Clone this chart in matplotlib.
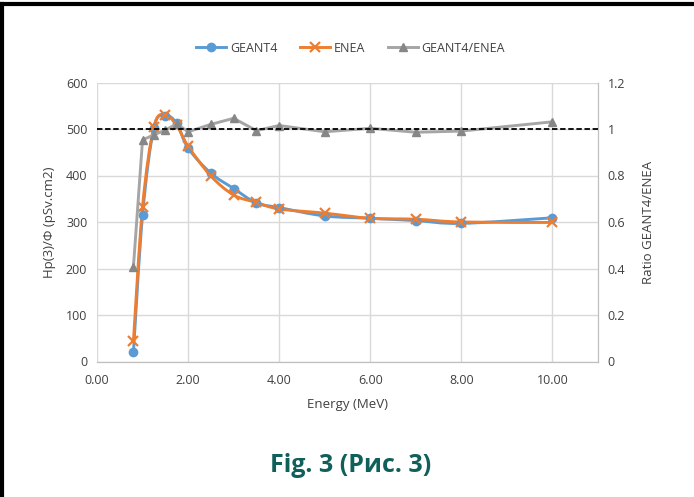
import numpy as np
import matplotlib
matplotlib.use("Agg")
import matplotlib.pyplot as plt
from matplotlib.path import Path
from matplotlib.patches import PathPatch
from matplotlib.lines import Line2D

# ============================= DATOS =================================
energia = [0.8, 1.0, 1.25, 1.5, 1.75, 2.0, 2.5, 3.0, 3.5, 4.0, 5.0, 6.0, 7.0, 8.0, 10.0]
geant4 = [20, 315, 503, 529, 512, 459, 405, 372, 341, 331, 313, 308, 303, 297, 309]
enea = [44, 333, 505, 531, 508, 463, 399, 358, 342, 328, 319, 308, 306, 300, 299]
ratio = [0.408, 0.953, 0.975, 0.995, 1.022, 0.988, 1.02, 1.046, 0.993, 1.015,
         0.988, 1.003, 0.986, 0.991, 1.031]

AZUL = '#5B9BD5'
NARANJA = '#ED7D31'
GRIS = '#A5A5A5'
GRIS_MARCA = '#878787'
TEAL = '#0f5f5b'

plt.rcParams['font.family'] = ['Open Sans', 'DejaVu Sans']


def curva_suave(x, y):
    # curva tipo Excel (Bezier con puntos de control Catmull-Rom)
    pts = np.column_stack([x, y]).astype(float)
    n = len(pts)
    verts = [pts[0]]
    codes = [Path.MOVETO]
    for i in range(n - 1):
        p0 = pts[i - 1] if i > 0 else pts[i]
        p1 = pts[i]
        p2 = pts[i + 1]
        p3 = pts[i + 2] if i + 2 < n else pts[i + 1]
        c1 = p1 + (p2 - p0) / 6.0
        c2 = p2 - (p3 - p1) / 6.0
        verts += [c1, c2, p2]
        codes += [Path.CURVE4] * 3
    return Path(verts, codes)


fig = plt.figure(figsize=(6.94, 4.97), dpi=100)
ax = fig.add_axes([97 / 694, 1 - 361.5 / 497, 501 / 694, 279 / 497])
ax2 = ax.twinx()

ax.set_xlim(0, 11)
ax.set_ylim(0, 600)
ax2.set_ylim(0, 1.2)

# lineas suavizadas
for ys, col in [(geant4, AZUL), (enea, NARANJA)]:
    ax.add_patch(PathPatch(curva_suave(energia, ys), facecolor='none',
                           edgecolor=col, lw=2.1, zorder=3))

ax.plot(energia, geant4, 'o', color=AZUL, ms=6, zorder=4)
ax.plot(energia, enea, 'x', color=NARANJA, ms=6.5, mew=1.6, zorder=5)

ax2.plot(energia, ratio, '-', color=GRIS, lw=2.1, zorder=3)
ax2.plot(energia, ratio, '^', color=GRIS_MARCA, ms=6, zorder=4)
ax2.axhline(1.0, color='black', ls=(0, (3, 1.5)), lw=1.3, zorder=6)

# ejes y rejilla
ax.set_xticks(np.arange(0, 12, 2))
ax.set_xticklabels([f'{v:.2f}' for v in np.arange(0, 12, 2)])
ax.set_yticks(np.arange(0, 700, 100))
ax2.set_yticks([0, 0.2, 0.4, 0.6, 0.8, 1.0, 1.2])
ax2.set_yticklabels(['0', '0.2', '0.4', '0.6', '0.8', '1', '1.2'])
ax.grid(True, color='#d9d9d9', lw=1)
ax.set_axisbelow(True)

for a in (ax, ax2):
    a.tick_params(length=0, labelsize=9, colors='#404040', pad=7)
    a.spines['top'].set_visible(False)
    a.spines['left'].set_visible(False)
    a.spines['bottom'].set_color('#bfbfbf')
    a.spines['right'].set_color('#bfbfbf')
ax.tick_params(axis='x', pad=9)

ax.set_xlabel('Energy (MeV)', fontsize=9.5, color='#404040', labelpad=8)
ax.set_ylabel('Hp(3)/Φ (pSv.cm2)', fontsize=9.5, color='#404040', labelpad=7)
ax2.set_ylabel('Ratio GEANT4/ENEA', fontsize=9.5, color='#404040', labelpad=12)

manejadores = [
    Line2D([], [], color=AZUL, lw=2.1, marker='o', ms=6),
    Line2D([], [], color=NARANJA, lw=2.1, marker='x', ms=6.5, mew=1.6),
    Line2D([], [], color=GRIS, lw=2.1, marker='^', ms=6, mfc=GRIS_MARCA, mec=GRIS_MARCA),
]
fig.legend(manejadores, ['GEANT4', 'ENEA', 'GEANT4/ENEA'], loc='center',
           bbox_to_anchor=(0.505, 1 - 48 / 497), ncol=3, frameon=False,
           fontsize=9, handlelength=2.4, columnspacing=1.8, handletextpad=0.3,
           labelcolor='#404040')

fig.text(0.505, 1 - 466 / 497, 'Fig. 3 (Рис. 3)', ha='center', va='center',
         fontsize=18, fontweight='bold', color=TEAL)

# marco negro arriba e izquierda
fig.add_artist(Line2D([0, 1], [1 - 4 / 497, 1 - 4 / 497], color='black', lw=3,
                      transform=fig.transFigure))
fig.add_artist(Line2D([2 / 694, 2 / 694], [0, 1 - 4 / 497], color='black', lw=3,
                      transform=fig.transFigure))

fig.savefig('out.png', dpi=100)
